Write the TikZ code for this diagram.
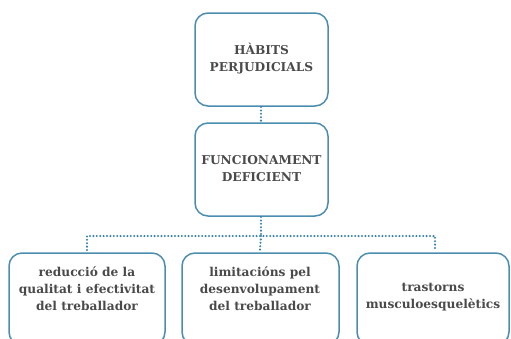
\documentclass[tikz,border=0pt]{standalone}
\usepackage{fontspec}
\setmainfont{DejaVu Serif}
\definecolor{boxblue}{HTML}{4B8DAE}
\definecolor{dotblue}{HTML}{3A82AA}
\definecolor{txtgray}{HTML}{4A4A4A}
\begin{document}
\begin{tikzpicture}[x=1pt,y=-1pt,
  box/.style={draw=boxblue,line width=1.5pt,rounded corners=13pt},
  lbl/.style={text=txtgray,font=\bfseries\fontsize{12.2}{17}\selectfont,align=center,inner sep=0pt},
  dotline/.style={draw=dotblue,line width=2.3pt,line cap=round,dash pattern=on 0pt off 3.4pt}]
\useasboundingbox (0,0) rectangle (511,338);
\clip (0,0) rectangle (511,338);
\draw[box] (195,13) rectangle (328,106);
\draw[box] (195,123) rectangle (328,216);
\draw[box] (9,253) rectangle (165,345);
\draw[box] (182,253) rectangle (339,345);
\draw[box] (357,253) rectangle (509,345);
\node[lbl] (a) at (261.5,59) {HÀBITS\\PERJUDICIALS};
\node[lbl] (b) at (261.5,169) {FUNCIONAMENT\\DEFICIENT};
\node[lbl] (c1) at (87,289) {reducció de la\\qualitat i efectivitat\\del treballador};
\node[lbl] (c2) at (260,289) {limitacións pel\\desenvolupament\\del treballador};
\node[lbl] (c3) at (433,297) {trastorns\\musculoesquelètics};
\coordinate (t) at (261,107);
\coordinate (m1) at (261,123);
\coordinate (m2) at (261,217);
\coordinate (j) at (261,236);
\coordinate (l) at (87,236);
\coordinate (r) at (435,236);
\coordinate (lb) at (87,250);
\coordinate (cb) at (260,250);
\coordinate (rb) at (435,250);
\draw[dotline] (t) -- (m1);
\draw[dotline] (m2) -- (j);
\draw[dotline] (lb) -- (l) -- (r) -- (rb);
\draw[dotline] (j) -- (cb);
\end{tikzpicture}
\end{document}
